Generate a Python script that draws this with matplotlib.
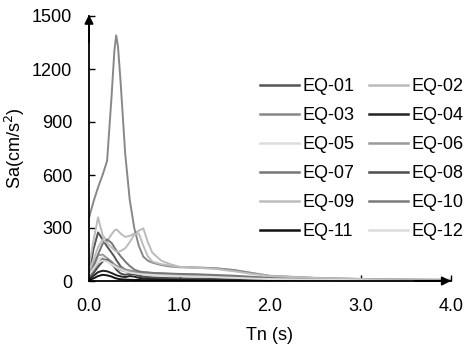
import matplotlib
matplotlib.use("Agg")
import matplotlib.pyplot as plt

plt.rcParams["font.family"] = ["Liberation Sans", "DejaVu Sans"]

# Natural period grid (s)
period = [0.00, 0.05, 0.10, 0.15, 0.20, 0.25, 0.28, 0.30, 0.32, 0.35, 0.40, 0.45,
          0.50, 0.55, 0.60, 0.65, 0.70, 0.80, 0.90, 1.00, 1.20, 1.40, 1.60, 1.80,
          2.00, 2.50, 3.00, 3.50, 4.00]

# Spectral acceleration Sa (cm/s^2) for each record
eq01 = [40, 180, 275, 235, 195, 160, 138, 120, 105, 82, 65, 55, 50, 45, 42, 40, 38, 36, 34, 32, 30, 27, 23, 18, 14, 8, 5, 4, 3]
eq02 = [80, 230, 360, 260, 225, 265, 285, 292, 285, 268, 250, 255, 268, 285, 298, 220, 160, 115, 95, 80, 76, 72, 62, 46, 30, 18, 12, 9, 7]
eq03 = [357, 450, 530, 600, 680, 1050, 1300, 1390, 1330, 1120, 720, 460, 300, 200, 138, 115, 104, 90, 82, 78, 76, 72, 62, 45, 28, 17, 11, 8, 6]
eq04 = [10, 30, 50, 58, 55, 45, 38, 33, 30, 26, 22, 28, 25, 18, 15, 13, 12, 11, 10, 9, 8, 7, 6, 5, 4, 3, 2, 2, 1]
eq05 = [40, 90, 125, 135, 120, 100, 88, 80, 75, 68, 60, 55, 50, 47, 45, 43, 41, 39, 37, 35, 32, 28, 24, 19, 14, 8, 5, 4, 3]
eq06 = [50, 100, 145, 150, 130, 110, 95, 88, 82, 75, 65, 60, 55, 52, 50, 48, 45, 42, 40, 38, 35, 30, 25, 20, 15, 9, 6, 4, 3]
eq07 = [30, 80, 150, 210, 235, 215, 190, 175, 160, 140, 110, 85, 65, 55, 50, 48, 46, 44, 42, 40, 38, 34, 30, 24, 18, 11, 7, 5, 4]
eq08 = [20, 45, 80, 110, 120, 100, 80, 65, 55, 42, 35, 40, 38, 30, 25, 22, 20, 18, 16, 15, 13, 11, 9, 7, 6, 4, 3, 2, 2]
eq09 = [60, 120, 190, 235, 215, 190, 175, 168, 165, 170, 185, 220, 262, 270, 200, 140, 110, 95, 88, 80, 75, 68, 55, 40, 28, 17, 11, 8, 6]
eq10 = [25, 60, 100, 125, 115, 95, 82, 75, 70, 62, 55, 50, 46, 42, 40, 38, 36, 34, 32, 30, 27, 23, 19, 15, 11, 7, 5, 3, 2]
eq11 = [5, 15, 28, 35, 32, 25, 18, 15, 12, 10, 8, 7, 6, 6, 5, 5, 5, 4, 4, 4, 3, 3, 3, 2, 2, 1, 1, 1, 1]
eq12 = [35, 70, 105, 115, 110, 95, 85, 78, 72, 65, 55, 48, 44, 40, 38, 36, 34, 32, 30, 28, 25, 22, 18, 14, 11, 7, 5, 3, 2]

labels = ["EQ-01", "EQ-02", "EQ-03", "EQ-04", "EQ-05", "EQ-06",
          "EQ-07", "EQ-08", "EQ-09", "EQ-10", "EQ-11", "EQ-12"]
series = [eq01, eq02, eq03, eq04, eq05, eq06, eq07, eq08, eq09, eq10, eq11, eq12]
colors = ["#555555", "#bbbbbb", "#888888", "#222222", "#dddddd", "#9a9a9a",
          "#777777", "#4d4d4d", "#bdbdbd", "#7a7a7a", "#111111", "#dcdcdc"]

x_ticks = [0.0, 1.0, 2.0, 3.0, 4.0]
x_ticklabels = ["0.0", "1.0", "2.0", "3.0", "4.0"]
y_ticks = [0, 300, 600, 900, 1200, 1500]

FS = 13

fig = plt.figure(figsize=(4.72, 3.5), dpi=100)
ax = fig.add_axes([89 / 472, 1 - 281 / 350, (451 - 89) / 472, (281 - 16) / 350])

handles = []
for vals, lab, col in zip(series, labels, colors):
    h, = ax.plot(period, vals, color=col, lw=1.4, label=lab)
    handles.append(h)

ax.set_xlim(0, 4)
ax.set_ylim(0, 1500)
ax.set_xticks(x_ticks)
ax.set_xticklabels(x_ticklabels)
ax.set_yticks(y_ticks)
ax.tick_params(axis="both", direction="in", length=4, width=1, labelsize=FS,
               colors="black")
ax.tick_params(axis="x", pad=12)
ax.tick_params(axis="y", pad=12)

for side in ("top", "right"):
    ax.spines[side].set_visible(False)
for side in ("left", "bottom"):
    ax.spines[side].set_linewidth(1.3)
    ax.spines[side].set_color("black")

# Arrow heads at the ends of both axes
arrow_kw = dict(arrowstyle="-|>", color="black", lw=1.3, mutation_scale=13,
                shrinkA=0, shrinkB=0)
ax.annotate("", xy=(0, 1.005), xytext=(0, 0.9), xycoords="axes fraction",
            arrowprops=arrow_kw, annotation_clip=False)
ax.annotate("", xy=(1.0, 0), xytext=(0.9, 0), xycoords="axes fraction",
            arrowprops=arrow_kw, annotation_clip=False)

ax.set_xlabel("Tn (s)", fontsize=FS, labelpad=9)
ax.set_ylabel("Sa(cm/s$^2$)", fontsize=FS, labelpad=4)

# Row-wise legend order for two columns
order = list(range(0, 12, 2)) + list(range(1, 12, 2))
leg = ax.legend([handles[i] for i in order], [labels[i] for i in order],
                ncol=2, frameon=False, fontsize=FS, loc="upper left",
                bbox_to_anchor=(260 / 472, 1 - 78 / 350),
                bbox_transform=fig.transFigure, borderpad=0, borderaxespad=0,
                handlelength=2.15, handletextpad=0.2, columnspacing=0.8,
                labelspacing=0.67)
for line in leg.get_lines():
    line.set_linewidth(1.8)

fig.savefig("out.png", dpi=100)
